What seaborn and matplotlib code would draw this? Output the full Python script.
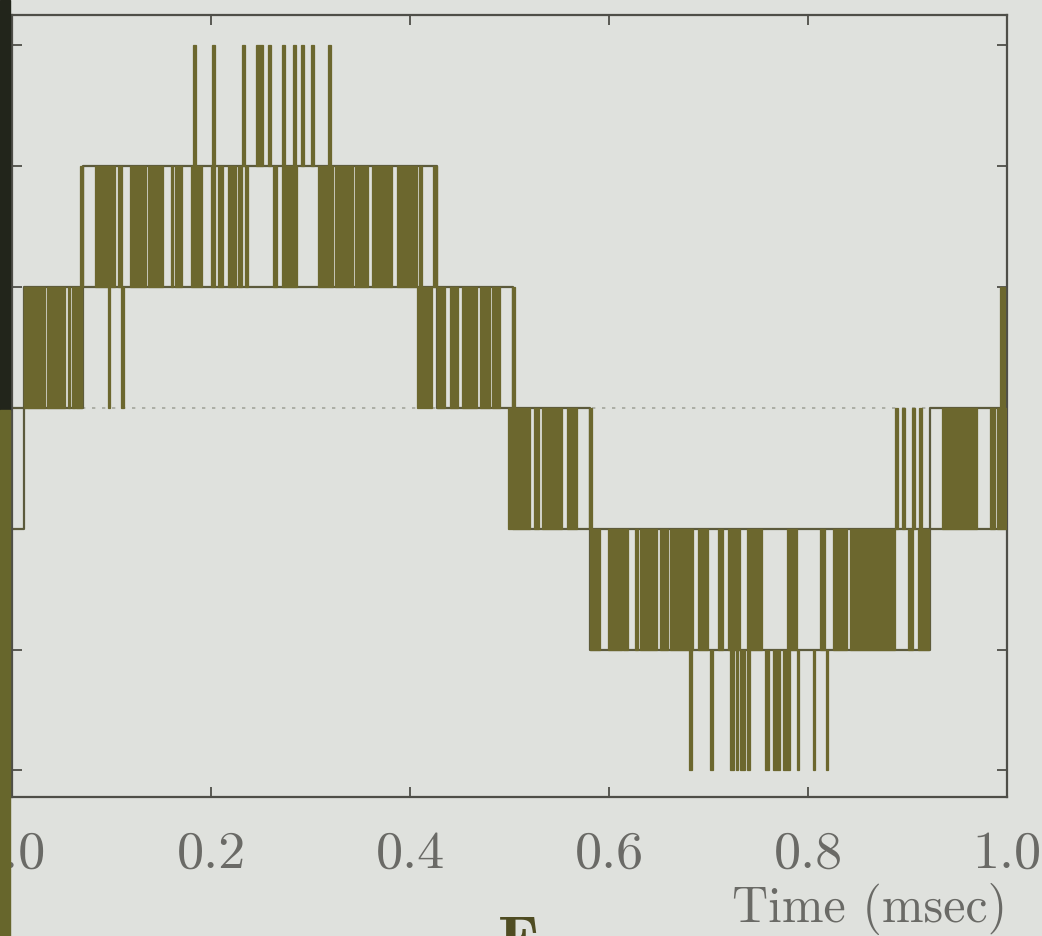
import pandas as pd
import seaborn as sns
import matplotlib.pyplot as plt
from matplotlib.patches import Rectangle

# Multilevel inverter output voltage, one period
band_edges = [0.0, 0.012, 0.071, 0.427, 0.503, 0.581, 0.923, 1.0]
band_low = [-1, 0, 1, 0, -1, -2, -1]

# switching blocks inside each band, (start, end) in msec
pulses_p2 = [(0.182, 0.185), (0.201, 0.204), (0.231, 0.234), (0.245, 0.252),
             (0.257, 0.260), (0.271, 0.274), (0.282, 0.285), (0.290, 0.293),
             (0.300, 0.303), (0.318, 0.321)]
pulses_p1 = [(0.068, 0.071), (0.083, 0.098), (0.100, 0.104), (0.107, 0.111),
             (0.119, 0.135), (0.137, 0.152), (0.160, 0.162), (0.164, 0.171),
             (0.180, 0.191), (0.200, 0.204), (0.207, 0.212), (0.217, 0.225),
             (0.227, 0.231), (0.234, 0.237), (0.262, 0.266), (0.271, 0.286),
             (0.308, 0.323), (0.325, 0.343), (0.345, 0.358), (0.362, 0.382),
             (0.387, 0.407), (0.409, 0.412), (0.423, 0.427)]
pulses_0 = [(0.012, 0.014), (0.015, 0.033), (0.035, 0.053), (0.056, 0.058),
            (0.060, 0.063), (0.064, 0.070), (0.096, 0.099), (0.110, 0.113),
            (0.407, 0.422), (0.427, 0.435), (0.440, 0.448), (0.452, 0.467),
            (0.470, 0.480), (0.482, 0.490), (0.502, 0.505), (0.993, 0.998)]
pulses_m1 = [(0.498, 0.521), (0.525, 0.530), (0.533, 0.553), (0.558, 0.568),
             (0.580, 0.583), (0.887, 0.890), (0.894, 0.897), (0.904, 0.907),
             (0.911, 0.914), (0.935, 0.970), (0.983, 0.988), (0.990, 1.0)]
pulses_m2 = [(0.581, 0.591), (0.599, 0.613), (0.614, 0.619), (0.626, 0.629),
             (0.631, 0.648), (0.651, 0.659), (0.661, 0.684), (0.689, 0.699),
             (0.709, 0.715), (0.720, 0.732), (0.739, 0.754), (0.779, 0.789),
             (0.812, 0.817), (0.825, 0.839), (0.842, 0.887), (0.900, 0.905),
             (0.910, 0.922)]
pulses_m3 = [(0.680, 0.683), (0.701, 0.704), (0.722, 0.726), (0.728, 0.730),
             (0.732, 0.737), (0.739, 0.742), (0.757, 0.761), (0.765, 0.772),
             (0.775, 0.782), (0.789, 0.791), (0.805, 0.807), (0.818, 0.820)]

tick_vals = [0.0, 0.2, 0.4, 0.6, 0.8, 1.0]
tick_text = ["0.0", "0.2", "0.4", "0.6", "0.8", "1.0"]
levels = [-3, -2, -1, 0, 1, 2, 3]

rows = []
for lvl, lst in [(2, pulses_p2), (1, pulses_p1), (0, pulses_0),
                 (-1, pulses_m1), (-2, pulses_m2), (-3, pulses_m3)]:
    for t0, t1 in lst:
        rows.append({"level": lvl, "start": t0, "end": t1})
blocks = pd.DataFrame(rows)

lower = band_low + [band_low[-1]]
upper = [v + 1 for v in lower]

sns.set_style("ticks")
plt.rcParams['font.family'] = ['cmr10', 'DejaVu Serif']
plt.rcParams['axes.unicode_minus'] = False

olive = "#6c672e"
line_col = "#5c5a3c"
paper = "#dfe1dd"

fig = plt.figure(figsize=(10.42, 9.36), dpi=100, facecolor=paper)
ax = fig.add_axes([0.0115, 0.1485, 0.955, 0.8355])
ax.set_facecolor(paper)

ax.axhline(0, color="#a3a59c", lw=1.2, ls=(0, (2, 4)), zorder=0.5)

sns.lineplot(x=band_edges, y=lower, drawstyle="steps-post", estimator=None,
             sort=False, color=line_col, lw=1.6, ax=ax, zorder=2)
sns.lineplot(x=band_edges, y=upper, drawstyle="steps-post", estimator=None,
             sort=False, color=line_col, lw=1.6, ax=ax, zorder=2)

ax.bar(blocks["start"], 1, width=blocks["end"] - blocks["start"],
       bottom=blocks["level"], align="edge", color=olive,
       edgecolor=olive, linewidth=0.9, zorder=3)

ax.set_xlim(0, 1)
ax.set_ylim(-3.22, 3.25)
ax.set_xticks(tick_vals)
ax.set_xticklabels(tick_text)
ax.set_yticks(levels)
ax.tick_params(direction="in", length=7, width=1.3, colors="#4e4e48",
               top=True, right=True, labelleft=False, labelsize=39, pad=24)
for lab in ax.get_xticklabels():
    lab.set_color("#6a6a66")
for sp in ax.spines.values():
    sp.set_linewidth(1.6)
    sp.set_color("#4e4e48")
ax.set_ylabel("")
ax.set_xlabel("Time (msec)", loc="right", fontsize=36, color="#6a6a66", labelpad=4)

# binding edge of the scanned page and the panel letter
fig.patches.append(Rectangle((0, 0.562), 0.0096, 0.438, transform=fig.transFigure,
                             color="#22251b", zorder=5))
fig.patches.append(Rectangle((0, 0), 0.0096, 0.562, transform=fig.transFigure,
                             color="#67662c", zorder=5))
fig.text(0.498, -0.027, "E", family=["cmb10", "DejaVu Serif"], fontweight="bold",
         fontsize=46, color="#4f4c22", ha="center", va="baseline")

fig.savefig("out.png", dpi=100, facecolor=paper)
